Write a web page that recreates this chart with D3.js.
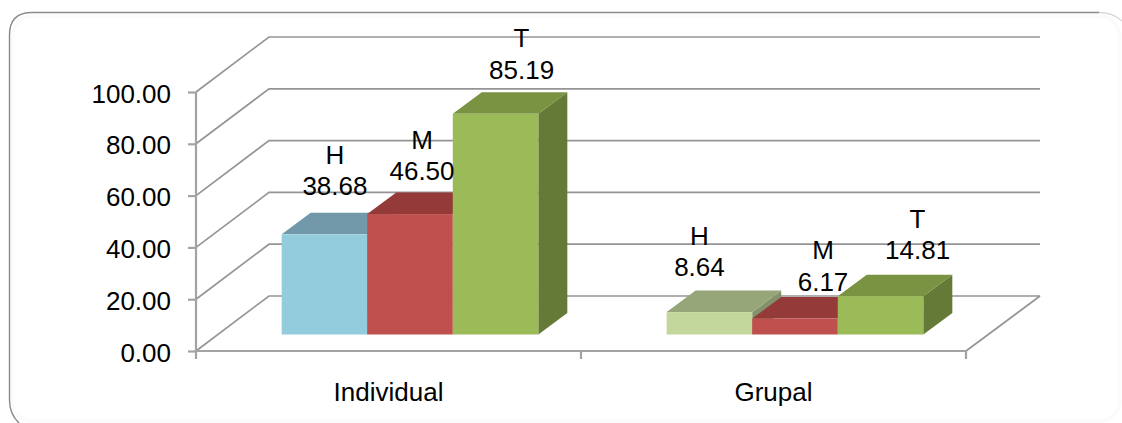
<!DOCTYPE html>
<html>
<head>
<meta charset="utf-8">
<style>
  html, body { margin: 0; padding: 0; background: #fff; }
  svg { display: block; }
  text { font-family: "Liberation Sans", Arial, sans-serif; fill: #000; }
</style>
<script src="https://cdnjs.cloudflare.com/ajax/libs/d3/7.8.5/d3.min.js"></script>
</head>
<body>
<svg id="chart" width="1122" height="423"></svg>
<script>
// Chart content
const categories = ["Individual", "Grupal"];
const seriesNames = ["H", "M", "T"];
const individualValues = [38.68, 46.50, 85.19];
const grupalValues = [8.64, 6.17, 14.81];
const yTicks = [0, 20, 40, 60, 80, 100];

// Face colours per bar: front, top, side
const blueFaces = ["#93cddd", "#7299a9", "#6f9aa6"];
const redFaces = ["#c0504d", "#943a38", "#8f3b39"];
const greenFaces = ["#9bbb59", "#7a9343", "#667a38"];
const paleGreenFaces = ["#c3d69b", "#97a678", "#83926a"];
const individualFaces = [blueFaces, redFaces, greenFaces];
const grupalFaces = [paleGreenFaces, redFaces, greenFaces];

// Hand-placed data label nudges from the bar's default anchor: [dx, dy]
const individualLabelNudges = [[10.5, -3], [12, 2], [26, 1]];
const grupalLabelNudges = [[-10, 0], [28, 8], [37, -1]];

const gridColor = "#959595";
const axisColor = "#a3a3a3";
const fontSize = 26;

const svg = d3.select("#chart");

// Panel: faint inner halo, then the outline that is darkest along the top and left
svg.append("rect")
  .attr("x", 12.5).attr("y", 16).attr("width", 1107).attr("height", 405)
  .attr("rx", 20).attr("fill", "#fff").attr("stroke", "#fbfbfb").attr("stroke-width", 4);
svg.append("path")
  .attr("d", "M1099,12.5 Q1113,12.5 1122,21")
  .attr("fill", "none").attr("stroke", "#d8d8d8").attr("stroke-width", 1.3);
svg.append("path")
  .attr("d", "M19,423 Q9.5,414 9.5,400 L9.5,35 Q9.5,12.5 32,12.5 L1099,12.5")
  .attr("fill", "none").attr("stroke", "#8a8a8a").attr("stroke-width", 1.4);

// Scales for the front plane of the box
const x = d3.scaleBand().domain(categories).range([196, 966]);
const y = d3.scaleLinear().domain([0, 100]).range([351, 92]);
const depthX = 73, depthY = -55;

// Bars occupy the middle of the floor depth
const barDepthX = 29, barDepthY = -21.5;
const barShiftX = (depthX - barDepthX) / 2 - 0.5;
const barShiftY = -16.5;

const barBand = d3.scaleBand().domain(seriesNames).paddingOuter(0.75).paddingInner(0);

// Walls: each gridline runs along the left wall, then across the back
const walls = svg.append("g").attr("fill", "none");
walls.selectAll("path").data(yTicks).join("path")
  .attr("d", d => {
    const p = d3.path();
    p.moveTo(x.range()[0], y(d));
    p.lineTo(x.range()[0] + depthX, y(d) + depthY);
    p.lineTo(x.range()[1] + depthX + 1, y(d) + depthY);
    return p.toString();
  })
  .attr("stroke", gridColor).attr("stroke-width", 1.7);

// Right edge of the floor
walls.append("line")
  .attr("x1", x.range()[1]).attr("y1", y(0))
  .attr("x2", x.range()[1] + depthX + 1).attr("y2", y(0) + depthY)
  .attr("stroke", gridColor).attr("stroke-width", 1.7);

// Value axis
const yAxis = svg.append("g")
  .attr("transform", `translate(${x.range()[0]},0)`)
  .call(d3.axisLeft(y).tickValues(yTicks).tickFormat(d3.format(".2f")).tickSize(8).tickPadding(17));
yAxis.select(".domain").attr("stroke", axisColor).attr("stroke-width", 2.2)
  .attr("d", `M0,${y(100)}V${y(0) + 8}`);
yAxis.selectAll(".tick line").attr("stroke", axisColor).attr("stroke-width", 2.2);
yAxis.selectAll(".tick text").style("font-size", fontSize + "px")
  .style("font-family", '"Liberation Sans", Arial, sans-serif').attr("fill", "#000")
  .attr("dy", "0.39em");

// Category axis with boundary ticks between the bands
const xAxis = svg.append("g").attr("transform", `translate(0,${y(0)})`);
xAxis.append("line")
  .attr("x1", x.range()[0]).attr("x2", x.range()[1])
  .attr("stroke", axisColor).attr("stroke-width", 2.2);
xAxis.selectAll("line.boundary").data([categories[1], null]).join("line")
  .attr("class", "boundary")
  .attr("x1", d => d ? x(d) : x.range()[1])
  .attr("x2", d => d ? x(d) : x.range()[1])
  .attr("y1", 0).attr("y2", 8)
  .attr("stroke", axisColor).attr("stroke-width", 2.2);
xAxis.selectAll("text").data(categories).join("text")
  .attr("x", d => x(d) + x.bandwidth() / 2)
  .attr("y", 49.5)
  .attr("text-anchor", "middle")
  .style("font-size", fontSize + "px")
  .text(d => d);

// Build the mark records from the value arrays
const groups = [
  { category: categories[0], values: individualValues, faces: individualFaces, nudges: individualLabelNudges },
  { category: categories[1], values: grupalValues, faces: grupalFaces, nudges: grupalLabelNudges }
];
const bars = groups.flatMap(g => {
  const inner = barBand.copy().range([x(g.category) + barShiftX, x(g.category) + barShiftX + x.bandwidth()]);
  return g.values.map((v, i) => ({
    name: seriesNames[i], value: v, faces: g.faces[i], nudge: g.nudges[i],
    x0: inner(seriesNames[i]), x1: inner(seriesNames[i]) + inner.bandwidth(),
    top: y(v) + barShiftY, base: y(0) + barShiftY
  }));
});

const poly = pts => "M" + pts.map(p => p.join(",")).join("L") + "Z";

// Bars are painted left to right so each one covers its neighbour's side face
const barGroups = svg.append("g").selectAll("g").data(bars).join("g");
barGroups.append("path").attr("fill", d => d.faces[2]).attr("d", d => poly([
  [d.x1, d.top], [d.x1 + barDepthX, d.top + barDepthY],
  [d.x1 + barDepthX, d.base + barDepthY], [d.x1, d.base]
]));
barGroups.append("path").attr("fill", d => d.faces[1]).attr("d", d => poly([
  [d.x0, d.top], [d.x0 + barDepthX, d.top + barDepthY],
  [d.x1 + barDepthX, d.top + barDepthY], [d.x1, d.top]
]));
barGroups.append("rect").attr("fill", d => d.faces[0])
  .attr("x", d => d.x0).attr("y", d => d.top)
  .attr("width", d => d.x1 - d.x0).attr("height", d => d.base - d.top);

// Two-line data labels: series name above the value
const labels = svg.append("g").selectAll("text").data(bars).join("text")
  .attr("text-anchor", "middle")
  .style("font-size", fontSize + "px")
  .attr("transform", d => `translate(${(d.x0 + d.x1) / 2 + d.nudge[0]},${d.top - 36 + d.nudge[1]})`);
labels.append("tspan").attr("x", 0).attr("y", -31.5).text(d => d.name);
labels.append("tspan").attr("x", 0).attr("y", 0).text(d => d.value.toFixed(2));
</script>
</body>
</html>
